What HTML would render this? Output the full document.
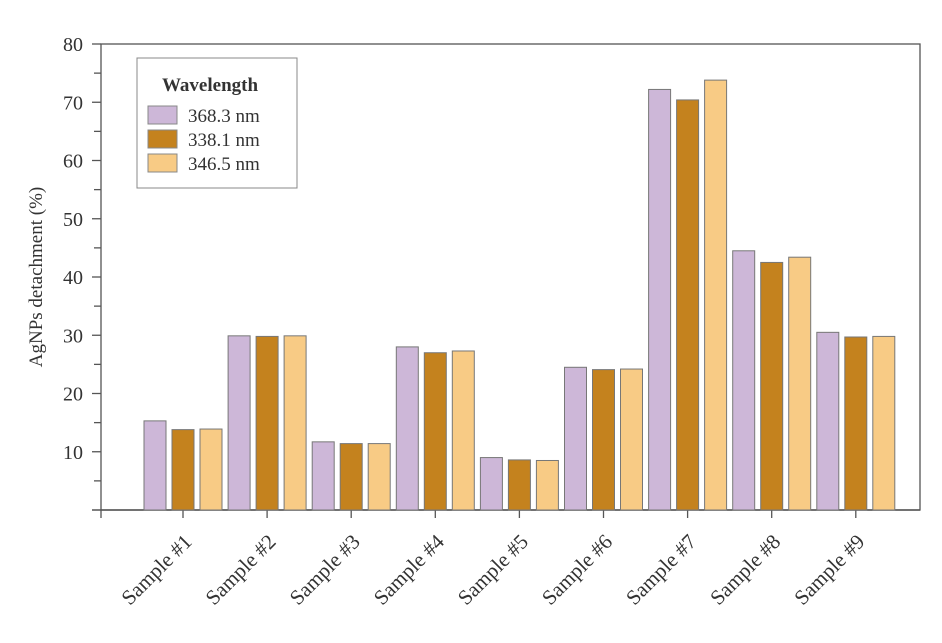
<!DOCTYPE html>
<html><head><meta charset="utf-8"><style>
body{margin:0;background:#fff}
svg text{font-family:"Liberation Serif",serif;fill:#333}
</style></head><body>
<svg id="c" width="942" height="638" xmlns="http://www.w3.org/2000/svg"></svg>
<script>
const categories=["Sample #1","Sample #2","Sample #3","Sample #4","Sample #5","Sample #6","Sample #7","Sample #8","Sample #9"];
const seriesNames=["368.3 nm","338.1 nm","346.5 nm"];
const s1=[15.3,29.9,11.7,28.0,9.0,24.5,72.2,44.5,30.5];
const s2=[13.8,29.8,11.4,27.0,8.6,24.1,70.4,42.5,29.7];
const s3=[13.9,29.9,11.4,27.3,8.5,24.2,73.8,43.4,29.8];
const yTicks=[10,20,30,40,50,60,70,80];
const colors=["#cdb7d8","#c4821e","#f8cb85"];
const svg=document.getElementById('c');const NS="http://www.w3.org/2000/svg";
function el(t,a,p){const e=document.createElementNS(NS,t);for(const k in a)e.setAttribute(k,a[k]);(p||svg).appendChild(e);return e;}
const x0=101,x1=920,yTop=44,yBot=510;
const y=v=>yBot-(v/80)*(yBot-yTop);
const cx=i=>183+i*84.1;
let f=el('rect',{x:x0,y:yTop,width:x1-x0,height:yBot-yTop,fill:'none',stroke:'#555','stroke-width':1.3});

let xl=el('line',{x1:92,y1:yBot,x2:x1,y2:yBot,stroke:'#555','stroke-width':1.5});

el('line',{x1:x0,y1:yBot,x2:x0,y2:518,stroke:'#555','stroke-width':1.3});
for(let v=5;v<=80;v+=5){el('line',{x1:v%10?94:92,y1:y(v),x2:x0,y2:y(v),stroke:'#555','stroke-width':1.3});}
yTicks.forEach(v=>{const t=el('text',{x:83,y:y(v)+7,'text-anchor':'end','font-size':20});t.textContent=v;
});
const yt=el('text',{transform:'translate(42,277) rotate(-90)','text-anchor':'middle','font-size':19});yt.textContent='AgNPs detachment (%)';

const series=[s1,s2,s3];
categories.forEach((c,i)=>{
 el('line',{x1:cx(i),y1:yBot,x2:cx(i),y2:518,stroke:'#555','stroke-width':1.3});
 series.forEach((s,j)=>{const bx=cx(i)-39+j*28;const r=el('rect',{x:bx,y:y(s[i]),width:22,height:yBot-y(s[i]),fill:colors[j],stroke:'#777','stroke-width':1});
 });
 const t=el('text',{transform:`translate(${cx(i)+10},543) rotate(-45)`,'text-anchor':'end','font-size':21});t.textContent=c;
 
});
const g=el('g',{});
el('rect',{x:137,y:58,width:160,height:130,fill:'#fff',stroke:'#888','stroke-width':1},g);
const lt=el('text',{x:210,y:91,'text-anchor':'middle','font-size':19,'font-weight':'bold'},g);lt.textContent='Wavelength';
seriesNames.forEach((n,j)=>{const yy=106+j*24;
 const r=el('rect',{x:148,y:yy,width:29,height:18,fill:colors[j],stroke:'#888'},g);
 
 const t=el('text',{x:188,y:yy+16,'font-size':19},g);t.textContent=n;
 });
</script>
</body></html>
